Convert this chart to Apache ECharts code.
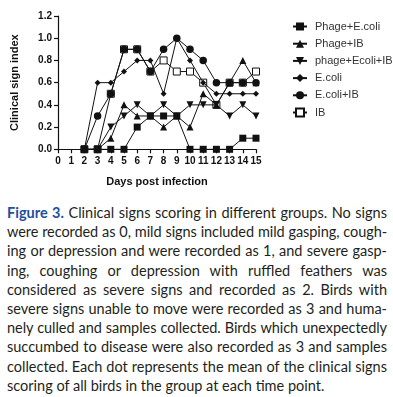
<!DOCTYPE html>
<html><head><meta charset="utf-8">
<script src="https://cdn.jsdelivr.net/npm/echarts@6/dist/echarts.min.js"></script>
<style>
html,body{margin:0;padding:0;background:#fff;width:393px;height:397px;overflow:hidden}
#chart{position:absolute;left:0;top:0;width:393px;height:200px}
#cap{position:absolute;left:7px;top:203px;width:380px;font-family:Lato,'Noto Sans',sans-serif;font-size:14.5px;line-height:19.2px;color:#231f20}
#cap div{white-space:nowrap;text-align:justify;text-align-last:justify;width:380px}
#cap div.last{text-align-last:left}
#cap b{color:#1f4f9d;font-weight:bold}
</style></head><body>
<div id="chart"></div>
<div id="cap"></div>
<script>
const days = [2,3,4,5,6,7,8,9,10,11,12,13,14,15];
const phageEcoli   = [0,0,0,0,0.2,0.3,0.3,0.3,0,0,0,0,0.1,0.1];
const phageIB      = [0,0,0.1,0.4,0.3,0.3,0.2,0.3,0.2,0.5,0.4,0.6,0.8,0.6];
const phageEcoliIB = [0,0,0.2,0.3,0.4,0.3,0.4,0.3,0.4,0.4,0.4,0.3,0.4,0.3];
const ecoli        = [0,0.6,0.6,0.7,0.8,0.8,0.5,1.0,0.8,0.6,0.5,0.5,0.5,0.5];
const ecoliIB      = [0,0.3,0.5,0.9,0.9,0.7,0.9,1.0,0.9,0.8,0.6,0.6,0.6,0.6];
const ib           = [0,0,0.5,0.9,0.9,0.7,0.8,0.7,0.7,0.6,0.4,0.6,0.6,0.7];
const seriesNames = ['Phage+E.coli','Phage+IB','phage+Ecoli+IB','E.coli','E.coli+IB','IB'];
const xTicks = [0,1,2,3,4,5,6,7,8,9,10,11,12,13,14,15];
const yTicks = [0,0.2,0.4,0.6,0.8,1.0,1.2];

const captionLines = [
 '<b>Figure 3.</b> Clinical signs scoring in different groups. No signs',
 'were recorded as 0, mild signs included mild gasping, cough-',
 'ing or depression and were recorded as 1, and severe gasp-',
 'ing, coughing or depression with ruffled feathers was',
 'considered as severe signs and recorded as 2. Birds with',
 'severe signs unable to move were recorded as 3 and huma-',
 'nely culled and samples collected. Birds which unexpectedly',
 'succumbed to disease were also recorded as 3 and samples',
 'collected. Each dot represents the mean of the clinical signs',
 'scoring of all birds in the group at each time point.'
];

const cap = document.getElementById('cap');
captionLines.forEach((t,i)=>{
  const d = document.createElement('div');
  d.innerHTML = t;
  if (i === captionLines.length-1) d.className = 'last';
  cap.appendChild(d);
});
Array.from(cap.children).forEach(d=>{
  const s = document.createElement('span');
  s.innerHTML = d.innerHTML;
  s.style.whiteSpace = 'nowrap';
  s.style.visibility = 'hidden';
  s.style.position = 'absolute';
  cap.appendChild(s);
  const w = s.getBoundingClientRect().width;
  cap.removeChild(s);
  if (w > 380) {
    const n = d.textContent.length;
    d.style.letterSpacing = ((380 - w) / n - 0.05) + 'px';
  }
});

const pair = arr => days.map((d,i)=>[d, arr[i]]);
const black = '#111';
const mk = (name, arr, symbol, size, extra) => Object.assign({
  name, type:'line', data: pair(arr), symbol, symbolSize:size,
  lineStyle:{color:black, width:1},
  itemStyle:{color:black, borderColor:black, borderWidth:0},
  emphasis:{disabled:true}, animation:false, z:3
}, extra||{});

const series = [
  mk(seriesNames[0], phageEcoli, 'rect', 7),
  mk(seriesNames[1], phageIB, 'triangle', 7),
  mk(seriesNames[2], phageEcoliIB, 'path://M0,0L10,0L5,10Z', 7),
  mk(seriesNames[3], ecoli, 'diamond', 6),
  mk(seriesNames[4], ecoliIB, 'circle', 7.5),
  mk(seriesNames[5], ib, 'rect', 7, {itemStyle:{color:'#fff', borderColor:black, borderWidth:1}, z:2})
];

const font = 'Arial, "Liberation Sans", sans-serif';
const chart = echarts.init(document.getElementById('chart'), null, {renderer:'canvas'});
chart.setOption({
  backgroundColor:'#fff',
  animation:false,
  grid:{left:58, top:16, width:198, height:133.3, containLabel:false},
  xAxis:{
    type:'value', min:0, max:15, interval:1,
    name:'Days post infection', nameLocation:'middle', nameGap:27,
    nameTextStyle:{fontFamily:font, fontWeight:'bold', fontSize:11, color:'#111'},
    axisLine:{lineStyle:{color:black, width:1.2}},
    axisTick:{show:true, length:4, lineStyle:{color:black, width:1.2}},
    axisLabel:{fontFamily:font, fontWeight:'bold', fontSize:10, color:'#111', margin:7,
      formatter:v=> xTicks.includes(v) ? String(v) : ''},
    splitLine:{show:false}
  },
  yAxis:{
    type:'value', min:0, max:1.2, interval:0.2,
    name:'Clinical sign index', nameLocation:'middle', nameGap:38,
    nameTextStyle:{fontFamily:font, fontWeight:'bold', fontSize:11, color:'#111'},
    axisLine:{show:true, lineStyle:{color:black, width:1.2}},
    axisTick:{show:true, length:4, lineStyle:{color:black, width:1.2}},
    axisLabel:{fontFamily:font, fontWeight:'bold', fontSize:10, color:'#111', margin:6,
      formatter:v=> v.toFixed(1)},
    splitLine:{show:false}
  },
  legend:{
    orient:'vertical', left:287, top:16, itemWidth:14, itemHeight:10, itemGap:6.2,
    data: seriesNames,
    textStyle:{fontFamily:font, fontSize:11, color:'#333', padding:[0,0,0,3]}
  },
  series
});
</script>
</body></html>
